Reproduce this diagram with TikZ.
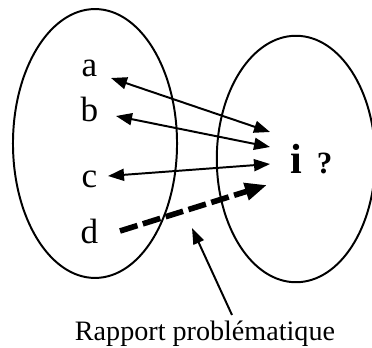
\documentclass[tikz,border=0pt]{standalone}
\usepackage{fontspec}
\setmainfont{Liberation Serif}
\usetikzlibrary{arrows.meta, positioning}
\tikzset{
  every picture/.style={line width=1.3pt},
  set/.style={draw, line width=1.4pt},
  elem/.style={font=\fontsize{25}{30}\selectfont, anchor=base, inner sep=0pt},
  target/.style={font=\bfseries\fontsize{#1}{30}\selectfont, anchor=base west, inner sep=0pt},
  link/.style={{Triangle[length=4mm, width=3mm]}-{Triangle[length=4mm, width=3mm]}, line width=1.4pt},
  weak/.style={-{Triangle[length=5.5mm, width=4.2mm]}, line width=4pt, dash pattern=on 13pt off 4pt},
  pointer/.style={-{Triangle[length=4mm, width=2.8mm]}, line width=1.4pt},
  note/.style={font=\fontsize{20}{24}\selectfont, anchor=base, inner sep=0pt},
}

\begin{document}
\begin{tikzpicture}[x=0.025cm, y=-0.025cm]
  \useasboundingbox (0,0) rectangle (372,347);
  % the two sets
  \draw[set] (95,143.5) ellipse [x radius=2.05cm, y radius=3.36cm];
  \draw[set] (296,159) ellipse [x radius=1.98cm, y radius=3.08cm];
  % elements
  \node[elem] (a) at (89.5,77) {a};
  \node[elem] (b) at (89.5,121) {b};
  \node[elem] (c) at (89.5,187) {c};
  \node[elem] (d) at (89.5,243) {d};
  \node[target=30] (t) at (290,173) {i};
  \node[target=22] (q) at (316,173) {?};
  % arrow ends
  \coordinate (la) at (111,78);  \coordinate (ta) at (270,132);
  \coordinate (lb) at (116,116); \coordinate (tb) at (270,147);
  \coordinate (lc) at (108,176); \coordinate (tc) at (270,164);
  \coordinate (ld) at (120,231); \coordinate (td) at (267,185);
  \draw[link] (la) -- (ta);
  \draw[link] (lb) -- (tb);
  \draw[link] (lc) -- (tc);
  \draw[weak] (ld) -- (td);
  % the note
  \node[note] (r) at (205,340) {Rapport problématique};
  \coordinate (rp) at (232,315);
  \coordinate (rt) at (192,228);
  \draw[pointer] (rp) -- (rt);
\end{tikzpicture}
\end{document}
